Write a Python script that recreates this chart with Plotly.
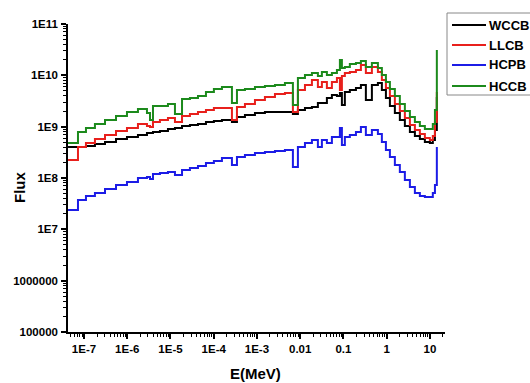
import plotly.graph_objects as go

# Energy group boundaries (MeV)
energy = [4.27e-8, 7.26e-8, 1.11e-7, 1.79e-7, 3.06e-7, 5.50e-7, 9.86e-7, 1.77e-6,
          2.86e-6, 3.36e-6, 3.94e-6, 5.71e-6, 8.75e-6, 1.27e-5, 1.49e-5, 1.85e-5,
          2.82e-5, 4.33e-5, 6.62e-5, 1.01e-4, 1.55e-4, 2.64e-4, 3.45e-4, 5.28e-4,
          9.0e-4, 1.53e-3, 2.61e-3, 4.44e-3, 6.79e-3, 8.87e-3, 1.29e-2, 1.87e-2,
          2.57e-2, 3.18e-2, 4.15e-2, 5.42e-2, 7.08e-2, 8.30e-2, 9.23e-2, 0.108,
          0.141, 0.195, 0.254, 0.331, 0.456, 0.628, 0.776, 0.962,
          1.19, 1.55, 2.02, 2.64, 3.45, 4.50, 5.87, 7.66,
          10.0, 11.7, 13.1, 14.5]

wccb = [4.02e8, 4.02e8, 4.20e8, 4.60e8, 5.03e8, 5.75e8, 6.29e8, 6.88e8,
        7.53e8, 7.53e8, 7.87e8, 8.23e8, 9.01e8, 9.42e8, 9.42e8, 1.03e9,
        1.08e9, 1.13e9, 1.23e9, 1.29e9, 1.35e9, 1.23e9, 1.54e9, 1.69e9,
        1.85e9, 1.93e9, 1.93e9, 1.93e9, 1.77e9, 2.11e9, 2.31e9, 2.42e9,
        2.89e9, 2.89e9, 3.62e9, 4.14e9, 3.96e9, 4.53e9, 2.64e9, 4.74e9,
        5.18e9, 5.67e9, 6.48e9, 3.31e9, 6.48e9, 7.09e9, 5.18e9, 3.62e9,
        2.53e9, 1.85e9, 1.35e9, 1.03e9, 7.87e8, 6.58e8, 5.75e8, 5.03e8,
        4.81e8, 5.50e8, 8.61e8, 3.78e9]

llcb = [2.24e8, 4.02e8, 4.81e8, 5.75e8, 6.88e8, 8.23e8, 9.42e8, 1.13e9,
        1.03e9, 9.85e8, 1.23e9, 1.35e9, 1.48e9, 1.23e9, 1.23e9, 1.61e9,
        1.77e9, 1.93e9, 2.11e9, 2.31e9, 2.31e9, 1.35e9, 2.42e9, 2.76e9,
        3.31e9, 3.78e9, 4.33e9, 4.53e9, 1.93e9, 5.18e9, 6.48e9, 8.11e9,
        5.93e9, 7.42e9, 5.67e9, 7.42e9, 8.87e9, 5.18e9, 9.70e9, 1.11e10,
        1.16e10, 1.27e10, 1.59e10, 1.11e10, 1.45e10, 1.16e10, 8.11e9, 5.67e9,
        3.96e9, 2.76e9, 2.02e9, 1.48e9, 1.08e9, 8.61e8, 7.20e8, 6.02e8,
        5.50e8, 6.58e8, 1.23e9, 4.74e9]

hcpb = [2.38e7, 3.73e7, 4.46e7, 5.10e7, 6.11e7, 7.31e7, 8.36e7, 1.00e8,
        1.05e8, 9.56e7, 1.20e8, 1.25e8, 1.31e8, 1.14e8, 1.14e8, 1.43e8,
        1.57e8, 1.71e8, 1.96e8, 2.14e8, 2.45e8, 1.79e8, 2.56e8, 2.81e8,
        3.07e8, 3.21e8, 3.36e8, 3.51e8, 1.64e8, 4.02e8, 4.81e8, 5.50e8,
        4.02e8, 5.50e8, 4.81e8, 6.29e8, 6.29e8, 9.42e8, 4.39e8, 6.29e8,
        6.88e8, 7.87e8, 9.85e8, 6.88e8, 8.61e8, 7.20e8, 5.03e8, 3.51e8,
        2.56e8, 1.79e8, 1.31e8, 9.14e7, 6.68e7, 5.10e7, 4.46e7, 4.26e7,
        4.26e7, 5.10e7, 7.31e7, 4.02e8]

hccb = [4.81e8, 7.87e8, 9.42e8, 1.13e9, 1.35e9, 1.61e9, 1.93e9, 2.21e9,
        1.85e9, 1.35e9, 2.53e9, 2.53e9, 2.76e9, 1.77e9, 1.77e9, 3.46e9,
        3.62e9, 3.96e9, 4.74e9, 5.42e9, 5.93e9, 2.89e9, 5.18e9, 5.42e9,
        5.93e9, 6.20e9, 6.48e9, 7.09e9, 2.64e9, 8.87e9, 1.01e10, 1.11e10,
        9.70e9, 1.16e10, 1.01e10, 1.11e10, 1.27e10, 1.99e10, 1.39e10, 1.45e10,
        1.66e10, 1.74e10, 1.90e10, 1.45e10, 1.74e10, 1.39e10, 1.01e10, 7.42e9,
        5.42e9, 3.96e9, 2.76e9, 2.02e9, 1.54e9, 1.23e9, 1.03e9, 9.01e8,
        9.01e8, 1.13e9, 2.11e9, 3.12e10]

series_names = ["WCCB", "LLCB", "HCPB", "HCCB"]
series_values = [wccb, llcb, hcpb, hccb]
series_colors = ["#000000", "#e8201c", "#1c1ce6", "#1c8a1c"]

x_tickvals = [1e-7, 1e-6, 1e-5, 1e-4, 1e-3, 1e-2, 1e-1, 1, 10]
x_ticktext = ["1E-7", "1E-6", "1E-5", "1E-4", "1E-3", "0.01", "0.1", "1", "10"]
y_tickvals = [1e5, 1e6, 1e7, 1e8, 1e9, 1e10, 1e11]
y_ticktext = ["100000", "1000000", "1E7", "1E8", "1E9", "1E10", "1E11"]

FONT = "Liberation Sans, Arial, sans-serif"

fig = go.Figure()
for name, vals, col in zip(series_names, series_values, series_colors):
    fig.add_trace(go.Scatter(x=energy, y=vals, mode="lines", name=name,
                             line=dict(color=col, width=2, shape="hv"),
                             showlegend=False))

x_minor = [m * 10 ** e for e in range(-8, 2) for m in range(2, 10)]
y_minor = [m * 10 ** e for e in range(5, 11) for m in range(2, 10)]

fig.update_xaxes(type="log", range=[-7.37, 1.35], showline=True, linecolor="black",
                 linewidth=1.5, ticks="outside", ticklen=5, tickwidth=1.5, tickcolor="black",
                 tickmode="array", tickvals=x_tickvals, ticktext=x_ticktext,
                 showgrid=False, zeroline=False, mirror=False, ticklabelstandoff=0,
                 tickfont=dict(family=FONT, size=11.5, color="black", weight="bold"),
                 minor=dict(tickmode="array", tickvals=x_minor, ticks="outside",
                            ticklen=3, tickwidth=1, tickcolor="black", showgrid=False))
fig.update_yaxes(type="log", range=[5, 11], showline=True, linecolor="black",
                 linewidth=1.5, ticks="outside", ticklen=5, tickwidth=1.5, tickcolor="black",
                 tickmode="array", tickvals=y_tickvals, ticktext=y_ticktext,
                 showgrid=False, zeroline=False, mirror=False, ticklabelstandoff=1,
                 tickfont=dict(family=FONT, size=11.5, color="black", weight="bold"),
                 minor=dict(tickmode="array", tickvals=y_minor, ticks="outside",
                            ticklen=3, tickwidth=1, tickcolor="black", showgrid=False))

PW, PH, L, T = 377.0, 308.0, 68.0, 24.0

def px(xp):
    return (xp - L) / PW

def py(yp):
    return (T + PH - yp) / PH

annotations = [
    dict(text="Flux", x=px(19), y=py(188), xref="paper", yref="paper", showarrow=False,
         xanchor="center", yanchor="middle", textangle=-90,
         font=dict(family=FONT, size=15, color="black", weight="bold")),
    dict(text="E(MeV)", x=px(255), y=py(373), xref="paper", yref="paper", showarrow=False,
         xanchor="center", yanchor="middle",
         font=dict(family=FONT, size=15, color="black", weight="bold")),
]
shapes = [dict(type="rect", xref="paper", yref="paper", x0=px(447), x1=px(560),
               y0=py(95), y1=py(13), line=dict(color="#888888", width=1), fillcolor="white",
               layer="above")]
legend_y = [25, 45, 65, 86]
for name, col, ly in zip(series_names, series_colors, legend_y):
    shapes.append(dict(type="line", xref="paper", yref="paper", x0=px(452), x1=px(486),
                       y0=py(ly), y1=py(ly), line=dict(color=col, width=2), layer="above"))
    annotations.append(dict(text=name, x=px(487), y=py(ly), xref="paper", yref="paper",
                            xanchor="left", yanchor="middle", showarrow=False,
                            font=dict(family=FONT, size=13, color="black", weight="bold")))

fig.update_layout(width=530, height=383, margin=dict(l=68, r=85, t=24, b=51),
                  paper_bgcolor="white", plot_bgcolor="white",
                  annotations=annotations, shapes=shapes, showlegend=False)

fig.write_html("out.html")
